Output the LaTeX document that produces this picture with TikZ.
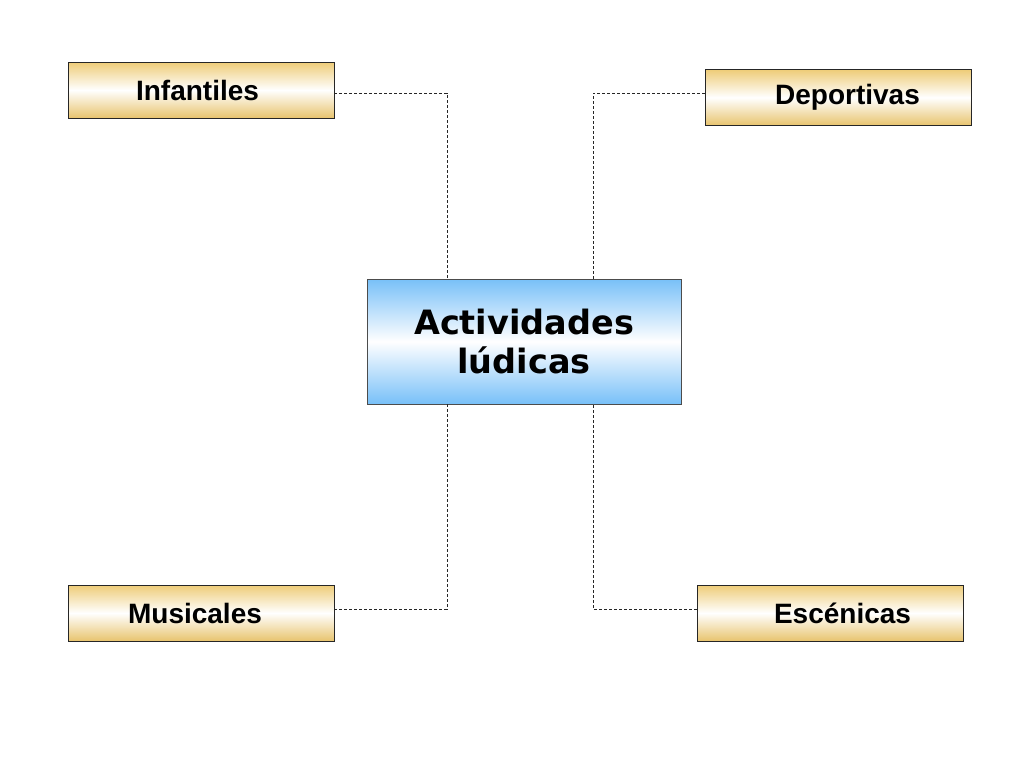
\documentclass[tikz,border=0pt]{standalone}
\usepackage{fontspec}
\setmainfont{Liberation Sans}
\newfontfamily\verdfont{DejaVu Sans}
\definecolor{goldtop}{RGB}{238,204,120}
\definecolor{goldbot}{RGB}{232,196,110}
\definecolor{skyblue}{RGB}{120,192,248}

\tikzset{
  leaf/.style={draw=black!85, line width=0.8pt, minimum width=266pt, minimum height=56pt,
    top color=goldtop, bottom color=goldbot, middle color=white,
    font=\bfseries\fontsize{28}{32}\selectfont, inner sep=0pt},
  root/.style={draw=black!70, line width=0.8pt, minimum width=314pt, minimum height=125pt,
    top color=skyblue, bottom color=skyblue, middle color=white, align=center,
    font=\verdfont\bfseries\fontsize{33.5}{39}\selectfont, inner sep=0pt},
  link/.style={draw=black!85, line width=0.7pt, dash pattern=on 3pt off 2pt}
}

\begin{document}
\begin{tikzpicture}[x=1pt,y=-1pt]
\useasboundingbox (0,0) rectangle (1024,768);
\node[root] (act) at (524,341.5) {Actividades\\lúdicas};
\node[leaf] (inf) at (201,90) {\hspace*{-7pt}Infantiles};
\node[leaf] (dep) at (838,97.5) {\hspace*{19pt}Deportivas};
\node[leaf] (mus) at (201,613) {\hspace*{-12pt}Musicales};
\node[leaf] (esc) at (830,613) {\hspace*{25pt}Escénicas};
\draw[link] ([yshift=-3pt]inf.east) -| ([xshift=-77pt]act.north);
\draw[link] ([yshift=4.5pt]dep.west) -| ([xshift=69pt]act.north);
\draw[link] ([yshift=4pt]mus.east) -| ([xshift=-77pt]act.south);
\draw[link] ([yshift=4pt]esc.west) -| ([xshift=69pt]act.south);
\end{tikzpicture}
\end{document}
